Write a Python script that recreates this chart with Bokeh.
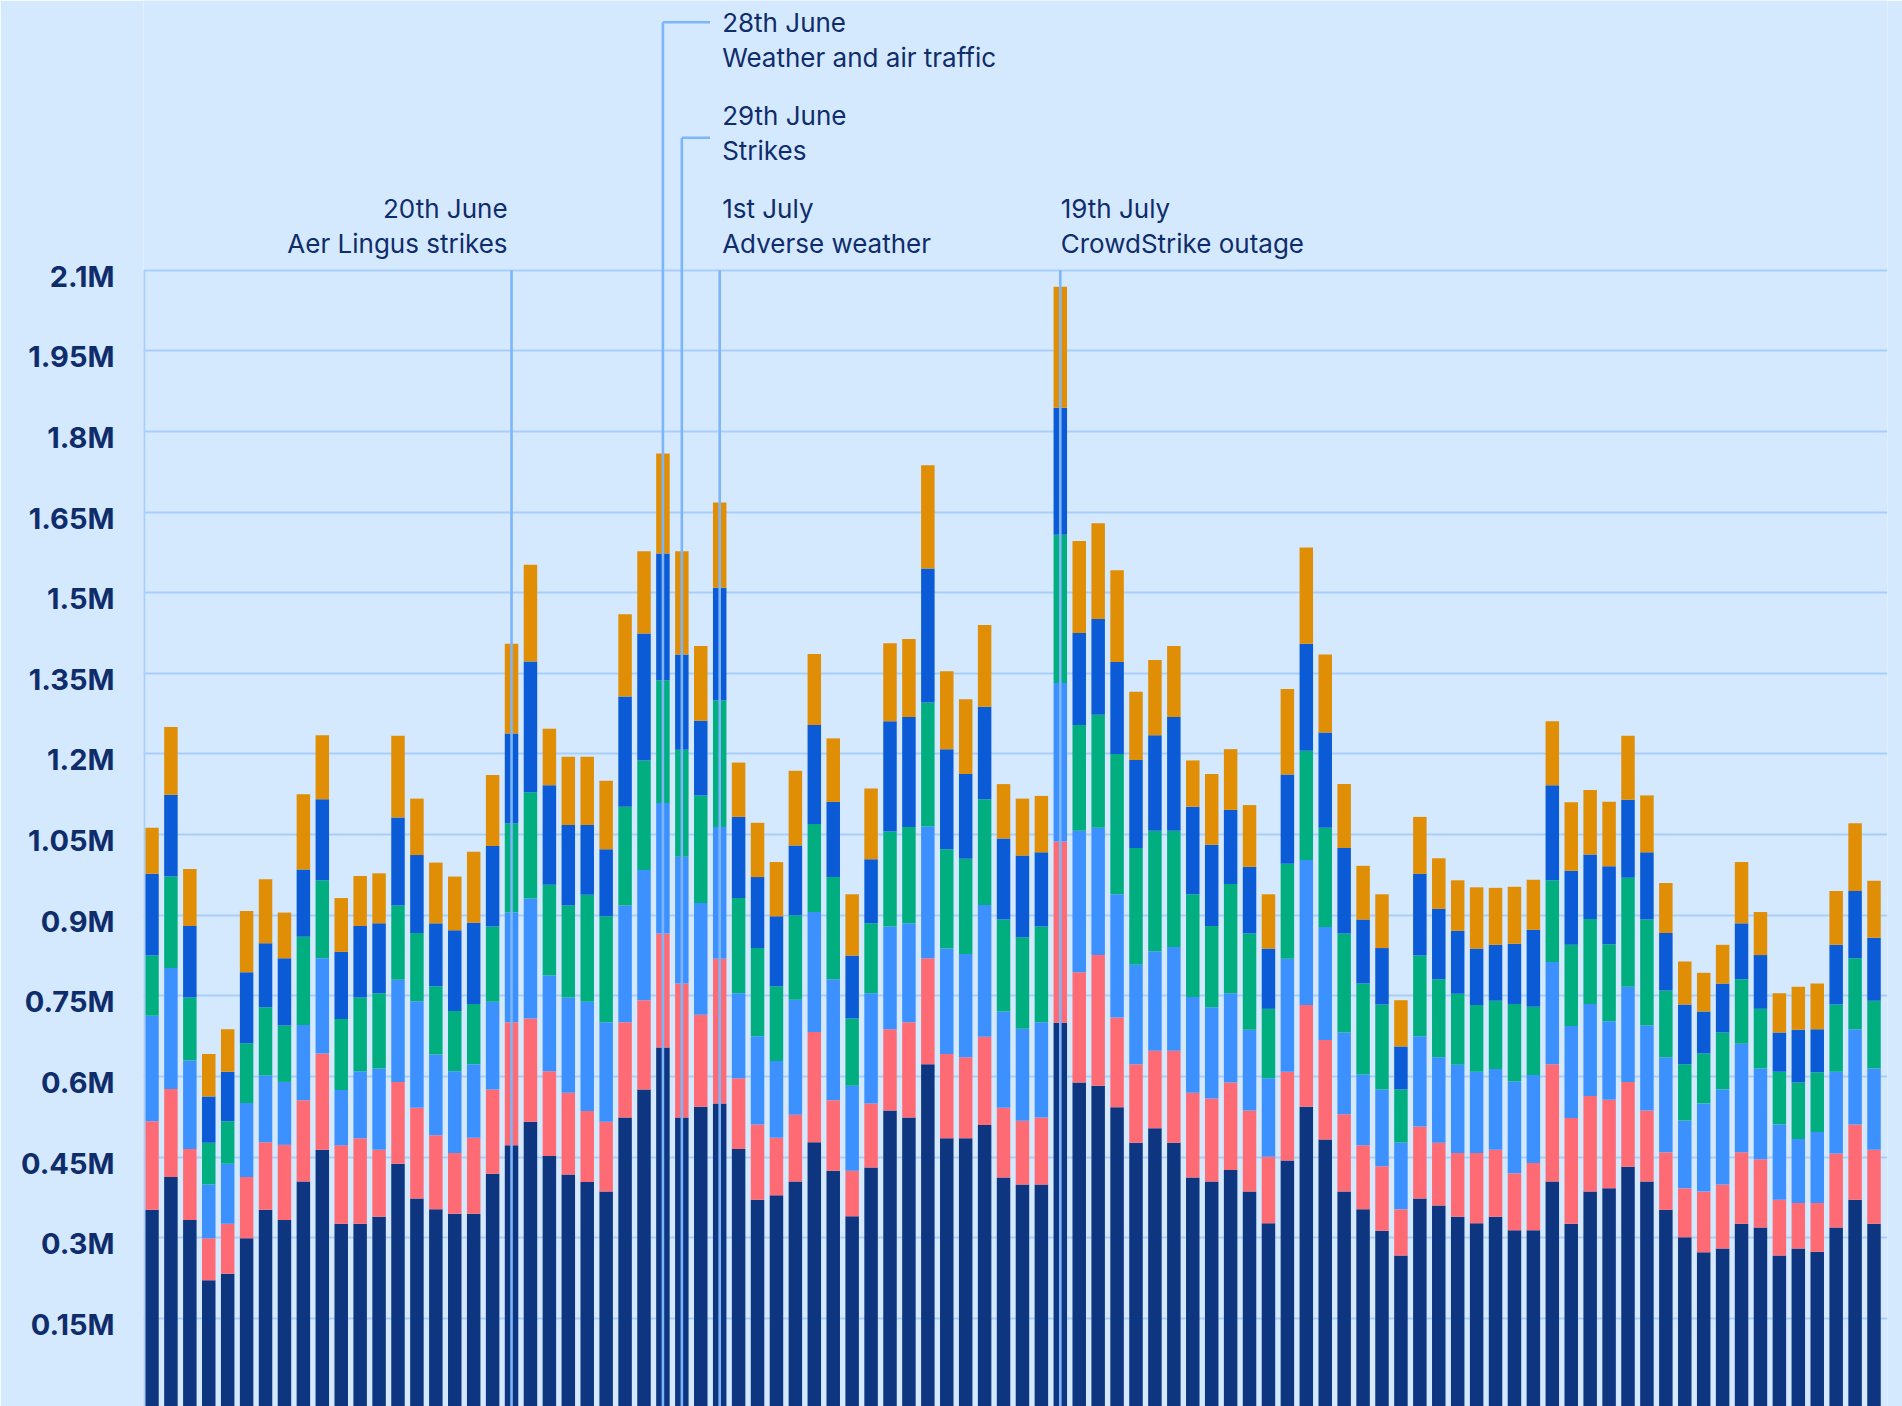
import datetime
from bokeh.plotting import figure
from bokeh.models import Range1d, FixedTicker, ColumnDataSource
from bokeh.core.properties import value
from bokeh.embed import file_html
from bokeh.resources import INLINE

# ---------------- data (millions) ----------------
start = datetime.date(2024, 6, 1)
days = [(start + datetime.timedelta(days=i)).strftime("%d %b") for i in range(92)]

navy = [0.352, 0.413, 0.333, 0.221, 0.233, 0.299, 0.352, 0.333, 0.405, 0.464,
        0.326, 0.326, 0.339, 0.438, 0.373, 0.353, 0.345, 0.345, 0.419, 0.472,
        0.516, 0.452, 0.418, 0.404, 0.386, 0.524, 0.576, 0.654, 0.524, 0.544,
        0.550, 0.465, 0.371, 0.379, 0.405, 0.478, 0.425, 0.340, 0.431, 0.537,
        0.524, 0.623, 0.485, 0.485, 0.510, 0.412, 0.399, 0.399, 0.700, 0.589,
        0.583, 0.543, 0.477, 0.504, 0.477, 0.412, 0.405, 0.426, 0.386, 0.327,
        0.444, 0.544, 0.483, 0.386, 0.353, 0.313, 0.267, 0.373, 0.360, 0.339,
        0.327, 0.339, 0.314, 0.314, 0.405, 0.326, 0.386, 0.392, 0.432, 0.405,
        0.352, 0.301, 0.273, 0.280, 0.326, 0.319, 0.267, 0.280, 0.274, 0.319,
        0.371, 0.326]

coral = [0.165, 0.164, 0.132, 0.078, 0.093, 0.114, 0.126, 0.140, 0.151, 0.179,
         0.146, 0.159, 0.125, 0.152, 0.169, 0.138, 0.113, 0.141, 0.157, 0.229,
         0.192, 0.158, 0.152, 0.132, 0.130, 0.177, 0.166, 0.212, 0.249, 0.171,
         0.269, 0.132, 0.140, 0.107, 0.124, 0.205, 0.131, 0.085, 0.119, 0.151,
         0.177, 0.197, 0.157, 0.151, 0.164, 0.130, 0.119, 0.125, 0.337, 0.205,
         0.243, 0.167, 0.146, 0.144, 0.171, 0.158, 0.154, 0.163, 0.151, 0.124,
         0.165, 0.189, 0.185, 0.144, 0.119, 0.120, 0.086, 0.134, 0.117, 0.119,
         0.131, 0.125, 0.106, 0.125, 0.218, 0.197, 0.178, 0.165, 0.158, 0.132,
         0.107, 0.091, 0.113, 0.119, 0.133, 0.127, 0.104, 0.085, 0.091, 0.138,
         0.140, 0.138]

light_blue = [0.196, 0.225, 0.165, 0.100, 0.112, 0.138, 0.124, 0.117, 0.140, 0.177,
              0.103, 0.125, 0.151, 0.190, 0.198, 0.150, 0.152, 0.137, 0.163, 0.204,
              0.223, 0.178, 0.177, 0.203, 0.185, 0.217, 0.242, 0.243, 0.236, 0.208,
              0.245, 0.158, 0.164, 0.143, 0.214, 0.223, 0.225, 0.158, 0.205, 0.191,
              0.184, 0.245, 0.196, 0.192, 0.245, 0.179, 0.171, 0.177, 0.295, 0.263,
              0.237, 0.229, 0.185, 0.185, 0.193, 0.178, 0.170, 0.166, 0.150, 0.146,
              0.210, 0.270, 0.210, 0.152, 0.132, 0.143, 0.124, 0.168, 0.159, 0.164,
              0.151, 0.150, 0.171, 0.164, 0.190, 0.171, 0.171, 0.146, 0.177, 0.158,
              0.177, 0.126, 0.164, 0.177, 0.202, 0.169, 0.140, 0.119, 0.132, 0.152,
              0.177, 0.151]

green = [0.112, 0.170, 0.117, 0.078, 0.079, 0.111, 0.127, 0.105, 0.164, 0.145,
         0.132, 0.137, 0.140, 0.138, 0.127, 0.127, 0.112, 0.112, 0.140, 0.166,
         0.198, 0.169, 0.171, 0.199, 0.197, 0.184, 0.204, 0.228, 0.199, 0.200,
         0.236, 0.177, 0.164, 0.139, 0.157, 0.164, 0.190, 0.125, 0.130, 0.177,
         0.179, 0.231, 0.185, 0.177, 0.197, 0.171, 0.170, 0.178, 0.276, 0.197,
         0.210, 0.261, 0.217, 0.224, 0.216, 0.191, 0.151, 0.203, 0.179, 0.129,
         0.177, 0.203, 0.185, 0.184, 0.169, 0.158, 0.099, 0.150, 0.145, 0.132,
         0.124, 0.127, 0.144, 0.127, 0.152, 0.151, 0.158, 0.143, 0.203, 0.197,
         0.124, 0.105, 0.093, 0.106, 0.120, 0.111, 0.098, 0.105, 0.111, 0.125,
         0.132, 0.126]

blue = [0.152, 0.152, 0.133, 0.086, 0.092, 0.132, 0.119, 0.125, 0.125, 0.151,
        0.125, 0.133, 0.130, 0.164, 0.145, 0.117, 0.150, 0.151, 0.150, 0.167,
        0.243, 0.185, 0.150, 0.130, 0.125, 0.205, 0.236, 0.236, 0.177, 0.139,
        0.209, 0.151, 0.132, 0.130, 0.130, 0.184, 0.140, 0.117, 0.119, 0.205,
        0.205, 0.249, 0.186, 0.158, 0.172, 0.151, 0.152, 0.138, 0.236, 0.171,
        0.178, 0.171, 0.164, 0.178, 0.212, 0.163, 0.151, 0.138, 0.124, 0.112,
        0.166, 0.199, 0.177, 0.159, 0.119, 0.105, 0.080, 0.152, 0.131, 0.117,
        0.105, 0.104, 0.112, 0.143, 0.177, 0.138, 0.120, 0.145, 0.145, 0.125,
        0.107, 0.111, 0.078, 0.091, 0.104, 0.100, 0.073, 0.098, 0.080, 0.111,
        0.125, 0.117]

orange = [0.086, 0.126, 0.106, 0.079, 0.079, 0.114, 0.119, 0.085, 0.140, 0.119,
          0.100, 0.093, 0.093, 0.152, 0.105, 0.113, 0.100, 0.132, 0.132, 0.167,
          0.180, 0.105, 0.127, 0.127, 0.127, 0.153, 0.153, 0.186, 0.192, 0.139,
          0.159, 0.101, 0.101, 0.101, 0.139, 0.132, 0.118, 0.114, 0.132, 0.145,
          0.145, 0.192, 0.145, 0.139, 0.152, 0.101, 0.106, 0.105, 0.225, 0.171,
          0.178, 0.171, 0.127, 0.140, 0.132, 0.086, 0.132, 0.113, 0.115, 0.101,
          0.159, 0.179, 0.145, 0.119, 0.100, 0.100, 0.086, 0.106, 0.094, 0.094,
          0.114, 0.106, 0.106, 0.093, 0.119, 0.127, 0.120, 0.120, 0.119, 0.106,
          0.093, 0.080, 0.072, 0.072, 0.114, 0.080, 0.073, 0.080, 0.085, 0.100,
          0.126, 0.106]

y_ticks = [0.15, 0.3, 0.45, 0.6, 0.75, 0.9, 1.05, 1.2, 1.35, 1.5, 1.65, 1.8, 1.95, 2.1]
y_tick_labels = ["0.15M", "0.3M", "0.45M", "0.6M", "0.75M", "0.9M", "1.05M",
                 "1.2M", "1.35M", "1.5M", "1.65M", "1.8M", "1.95M", "2.1M"]

event_days = ["20 Jun", "28 Jun", "29 Jun", "01 Jul", "19 Jul"]
event_dates = ["20th June", "28th June", "29th June", "1st July", "19th July"]
event_texts = ["Aer Lingus strikes", "Weather and air traffic", "Strikes",
               "Adverse weather", "CrowdStrike outage"]

# ---------------- styling / layout ----------------
BG = "#d5e9fe"
GRID = "#a9cff9"
ANN_LINE = "#7db5fa"
TEXT = "#0f2d6b"
colors = ["#0e3580", "#ff6b75", "#3d91ff", "#00ae80", "#0b5ad6", "#df8e05"]
series_names = ["navy", "coral", "light_blue", "green", "blue", "orange"]
series_values = [navy, coral, light_blue, green, blue, orange]

X0, X1 = -0.449, 91.713
Y_FLOOR, Y_TOP = -0.01376, 2.6016

x_idx = list(range(len(days)))

p = figure(width=1902, height=1406,
           x_range=Range1d(X0, X1), y_range=Range1d(Y_FLOOR, Y_TOP),
           output_backend="svg", toolbar_location=None,
           x_axis_location=None, y_axis_location="left",
           min_border_left=143, min_border_right=15,
           min_border_top=0, min_border_bottom=0,
           background_fill_color=BG, border_fill_color=BG,
           outline_line_color=None)

# stacked bars (the lowest segment is drawn from the axis floor)
cum = [0.0] * len(days)
for name, vals, col in zip(series_names, series_values, colors):
    bottom = [Y_FLOOR if name == series_names[0] else c for c in cum]
    top = [c + v for c, v in zip(cum, vals)]
    src = ColumnDataSource(dict(x=x_idx, day=days, bottom=bottom, top=top, value=vals))
    p.vbar(x="x", bottom="bottom", top="top", width=0.713, source=src,
           fill_color=col, line_color=None, legend_label=None or name)
    cum = top
p.legend.visible = False

# y axis (labels sit slightly below their grid lines, as in the original)
label_shift = 6 / 537.6
axis_ticks = [t - label_shift for t in y_ticks]
p.yaxis.ticker = FixedTicker(ticks=axis_ticks)
p.yaxis.major_label_overrides = dict(zip(axis_ticks, y_tick_labels))
p.yaxis.axis_line_color = None
p.yaxis.major_tick_line_color = None
p.yaxis.minor_tick_line_color = None
p.yaxis.major_tick_out = 0
p.yaxis.major_tick_in = 0
p.yaxis.major_label_standoff = 29
p.yaxis.major_label_text_font = "Inter"
p.yaxis.major_label_text_font_size = "29px"
p.yaxis.major_label_text_font_style = "bold"
p.yaxis.major_label_text_color = TEXT

p.ygrid.ticker = FixedTicker(ticks=y_ticks)
p.ygrid.grid_line_color = GRID
p.ygrid.grid_line_width = 2
p.xgrid.visible = False

# axis line from the floor to the top tick
p.segment(x0=[X0 + 0.03], y0=[Y_FLOOR], x1=[X0 + 0.03], y1=[y_ticks[-1]],
          line_color=GRID, line_width=2.5)

# ---------------- annotations ----------------
ev_x = [days.index(d) for d in event_days]
line_tops = [2.1, 2.5612, 2.3462, 2.1, 2.1]
p.segment(x0=ev_x, y0=[Y_FLOOR] * len(ev_x), x1=ev_x, y1=line_tops,
          line_color=ANN_LINE, line_width=2.6)
p.segment(x0=[ev_x[1], ev_x[2]], y0=[line_tops[1], line_tops[2]],
          x1=[29.49, 29.49], y1=[line_tops[1], line_tops[2]],
          line_color=ANN_LINE, line_width=2.6)

label_x = [18.79, 30.13, 30.13, 30.13, 48.02]
date_y = [2.2140, 2.5610, 2.3870, 2.2140, 2.2140]
desc_y = [2.1490, 2.4960, 2.3226, 2.1490, 2.1490]
aligns = ["right", "left", "left", "left", "left"]

for lx, dy, sy, d, t, a in zip(label_x, date_y, desc_y, event_dates, event_texts, aligns):
    p.text(x=[lx, lx], y=[dy, sy], text=[d, t],
           text_font=value("Inter"), text_font_size="26px",
           text_color=TEXT, text_align=a, text_baseline="middle")

html = file_html(p, INLINE, title="Daily flights")
html = html.replace("<body>", '<body style="background-color:%s;overflow:hidden;">' % BG, 1)
open("out.html", "w").write(html)
